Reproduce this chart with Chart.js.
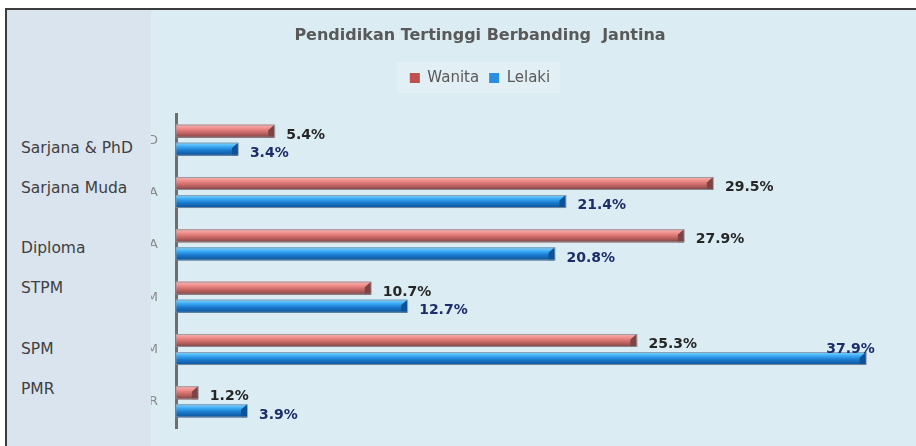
<!DOCTYPE html>
<html>
<head>
<meta charset="utf-8">
<script src="https://cdn.jsdelivr.net/npm/chart.js@4.4.0/dist/chart.umd.min.js"></script>
<style>
  html, body { margin: 0; overflow: hidden; background: #fff; font-family: "DejaVu Sans", sans-serif; }
  #frame { position: fixed; left: 5px; top: 8px; right: -20px; bottom: -20px; border-left: 2px solid #3c3c3c; border-top: 2px solid #3c3c3c; background: #dbedf3; overflow: hidden; }
  #side { position: absolute; left: 0; top: 0; width: 144px; height: 100%; background: #dae4ef; z-index: 2; }
  .cat { position: absolute; left: 14px; height: 20px; line-height: 20px; font-size: 15.5px; color: #404040; white-space: nowrap; }
  #wrap { position: absolute; left: 49px; top: 0; z-index: 1; }
</style>
</head>
<body>
<div id="frame">
  <div id="side"></div>
  <div id="wrap"><canvas id="barChart" width="848" height="436"></canvas></div>
</div>
<script>
// chart values, top to bottom
const categories = ["Sarjana & PhD", "Sarjana Muda", "Diploma", "STPM", "SPM", "PMR"];
const wanita = [5.4, 29.5, 27.9, 10.7, 25.3, 1.2];
const lelaki = [3.4, 21.4, 20.8, 12.7, 37.9, 3.9];
const seriesNames = ["Wanita", "Lelaki"];
const chartTitle = "Pendidikan Tertinggi Berbanding  Jantina";

// side panel labels (text boxes, not lined up with the bars)
const sideTops = [128, 168, 228, 268, 329, 369];
const side = document.getElementById("side");
categories.forEach((c, i) => {
  const d = document.createElement("div");
  d.className = "cat";
  d.style.top = sideTops[i] + "px";
  d.textContent = c;
  side.appendChild(d);
});

const shades = [
  ["#f8b6b4", "#ef8c8a", "#c96866", "#7c4444"],
  ["#86d8ff", "#3aaaf4", "#1a78cc", "#0d5196"]
];
const labelColors = ["#262626", "#1b2d6b"];

// 3D-ish bars + value labels
const bevel = {
  id: "bevel",
  beforeUpdate(chart) {
    const lg = chart.legend;
    if (lg && !lg._extra) {
      lg._extra = true;
      const fit = lg.fit;
      lg.fit = function () {
        fit.call(this);
        this.height += 18.5; // gap between legend and bars
      };
    }
  },
  beforeDraw(chart) {
    const lg = chart.legend;
    if (!lg || !lg.legendHitBoxes || !lg.legendHitBoxes.length) return;
    const hb = lg.legendHitBoxes;
    const l = Math.min(...hb.map(h => h.left)) - 13;
    const r = Math.max(...hb.map(h => h.left + h.width)) + 10;
    const t = hb[0].top - 8.5;
    const ctx = chart.ctx;
    ctx.save();
    ctx.fillStyle = "#e2eff5";
    ctx.fillRect(l, t, r - l, hb[0].height + 16);
    ctx.restore();
  },
  afterDatasetsDraw(chart) {
    const ctx = chart.ctx;
    chart.data.datasets.forEach((ds, di) => {
      const meta = chart.getDatasetMeta(di);
      const c = shades[di];
      meta.data.forEach((bar, i) => {
        const p = bar.getProps(["x", "y", "base", "height"], true);
        const top = p.y - p.height / 2, bot = p.y + p.height / 2;
        const g = ctx.createLinearGradient(0, top, 0, bot);
        g.addColorStop(0, c[0]);
        g.addColorStop(0.3, c[1]);
        g.addColorStop(0.6, c[2]);
        g.addColorStop(1, c[3]);
        ctx.save();
        ctx.fillStyle = g;
        ctx.fillRect(p.base, top, p.x - p.base, p.height);
        // end cap
        ctx.fillStyle = c[3];
        ctx.beginPath();
        ctx.moveTo(p.x, top);
        ctx.lineTo(p.x, bot);
        ctx.lineTo(p.x - 6, bot);
        ctx.lineTo(p.x - 6, p.y - 1);
        ctx.closePath();
        ctx.fill();
        ctx.strokeStyle = "rgba(140,150,160,0.8)";
        ctx.lineWidth = 1;
        ctx.strokeRect(p.base, top + 0.5, p.x - p.base + 0.5, p.height - 1);
        ctx.restore();

        // value label
        const txt = ds.data[i].toFixed(1) + "%";
        ctx.save();
        ctx.font = "bold 14px 'DejaVu Sans'";
        ctx.fillStyle = labelColors[di];
        ctx.textBaseline = "middle";
        const w = ctx.measureText(txt).width;
        if (p.x + 12 + w > chart.width - 2) {
          ctx.textAlign = "right";
          ctx.fillText(txt, p.x + 9, p.y - 9);
        } else {
          ctx.textAlign = "left";
          ctx.fillText(txt, p.x + 12, p.y + 4);
        }
        ctx.restore();
      });
    });
  }
};

const ctx = document.getElementById("barChart");
new Chart(ctx, {
  type: "bar",
  data: {
    labels: categories,
    datasets: [
      { label: seriesNames[0], data: wanita, backgroundColor: "#c0504d", borderWidth: 0 },
      { label: seriesNames[1], data: lelaki, backgroundColor: "#2a8ee0", borderWidth: 0 }
    ]
  },
  options: {
    indexAxis: "y",
    responsive: false,
    animation: false,
    devicePixelRatio: 1,
    layout: { padding: { left: 0, right: 0, top: 0, bottom: 18 } },
    datasets: { bar: { categoryPercentage: 0.69, barPercentage: 0.72 } },
    plugins: {
      title: {
        display: true,
        text: chartTitle,
        color: "#595959",
        font: { family: "DejaVu Sans", size: 16, weight: "bold" },
        padding: { top: 16.4, bottom: 14.9 }
      },
      legend: {
        display: true,
        position: "top",
        labels: {
          color: "#595959",
          font: { family: "DejaVu Sans", size: 15 },
          boxWidth: 10,
          boxHeight: 10,
          padding: 10
        }
      },
      tooltip: { enabled: false }
    },
    scales: {
      x: { display: false, min: 0, max: 40 },
      y: {
        grid: { display: false, drawTicks: false },
        border: { display: true, color: "#6e6e6e", width: 3 },
        ticks: {
          color: "#8a8a8a",
          font: { family: "DejaVu Sans", size: 13 },
          padding: 18,
          callback: function (v) { return this.getLabelForValue(v).toUpperCase(); }
        },
        afterFit(scale) {
          scale.width = 120;
          scale.paddingTop = 0;
          scale.paddingBottom = 0;
        }
      }
    }
  },
  plugins: [bevel]
});
</script>
</body>
</html>
